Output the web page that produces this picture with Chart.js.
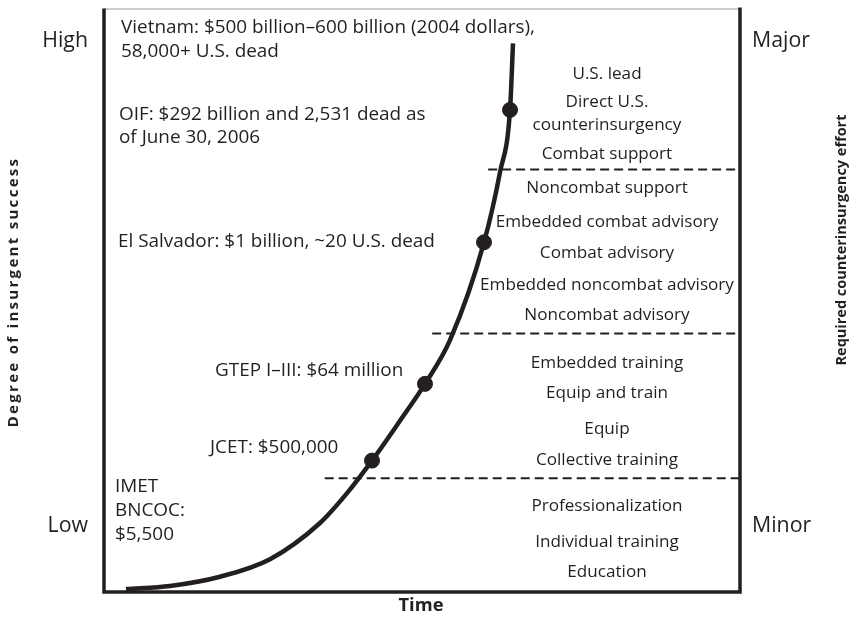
<!DOCTYPE html>
<html>
<head>
<meta charset="utf-8">
<script src="https://cdn.jsdelivr.net/npm/chart.js@4/dist/chart.umd.min.js"></script>
<style>
body{margin:0;background:#fff;}
#wrap{width:858px;height:625px;position:relative;}
</style>
</head>
<body>
<div id="wrap"><canvas id="chartCurva" width="858" height="625"></canvas></div>
<script>
// curva: tiempo (0-100) vs grado de exito insurgente (0-100)
var curvaX=[3.46,10.38,18.24,26.10,33.96,38.05,42.14,46.54,50.47,54.40,59.75,62.26,63.84,64.31];
var curvaY=[0.51,1.04,2.62,5.62,11.83,16.73,22.52,29.35,35.67,43.15,59.93,71.92,82.62,94.01];
// casos marcados en la curva: JCET, GTEP, El Salvador, OIF
var puntosX=[42.14,50.47,59.75,63.84];
var puntosY=[22.52,35.67,59.93,82.62];
// lineas punteadas que separan los niveles de esfuerzo
var divisionY=[72.4,44.3,19.5];
var divisionDesde=[60.4,51.6,34.7];

var casos=[
	["Vietnam: $500 billion\u2013600 billion (2004 dollars),","58,000+ U.S. dead"],
	["OIF: $292 billion and 2,531 dead as","of June 30, 2006"],
	["El Salvador: $1 billion, ~20 U.S. dead"],
	["GTEP I\u2013III: $64 million"],
	["JCET: $500,000"],
	["IMET","BNCOC:","$5,500"]
];
var niveles=["U.S. lead","Direct U.S.","counterinsurgency","Combat support","Noncombat support",
	"Embedded combat advisory","Combat advisory","Embedded noncombat advisory","Noncombat advisory",
	"Embedded training","Equip and train","Equip","Collective training",
	"Professionalization","Individual training","Education"];
var ejeIzq=["High","Low"];
var ejeDer=["Major","Minor"];
var tituloIzq="Degree of insurgent success";
var tituloDer="Required counterinsurgency effort";
var tituloX="Time";

var negro="#231f20";
var fuente="'Open Sans', 'Noto Sans', sans-serif";

function puntos(xs,ys){
	var r=[];
	for(var i=0;i<xs.length;i++) r.push({x:xs[i],y:ys[i]});
	return r;
}
// tamaño de letra para que el texto mida "ancho" px
function tamano(ctx,texto,ancho,peso){
	ctx.font=peso+" 20px "+fuente;
	return 20*ancho/ctx.measureText(texto).width;
}

var datasets=[];
for(var i=0;i<divisionY.length;i++){
	datasets.push({
		type:'line',
		data:[{x:divisionDesde[i],y:divisionY[i]},{x:100,y:divisionY[i]}],
		borderColor:negro,
		borderWidth:2,
		borderDash:[9,5],
		pointRadius:0
	});
}
datasets.push({
	type:'line',
	data:puntos(curvaX,curvaY),
	borderColor:negro,
	borderWidth:4.5,
	cubicInterpolationMode:'monotone',
	pointRadius:0,
	clip:false
});
datasets.push({
	type:'scatter',
	data:puntos(puntosX,puntosY),
	backgroundColor:negro,
	borderColor:negro,
	pointRadius:7.5,
	pointHoverRadius:7.5
});

var textos={
	id:'textos',
	afterDraw:function(chart){
		var ctx=chart.ctx, a=chart.chartArea;
		ctx.save();
		// marco
		ctx.strokeStyle="#9a9a9a";
		ctx.lineWidth=1;
		ctx.beginPath();ctx.moveTo(a.left,a.top+0.5);ctx.lineTo(a.right,a.top+0.5);ctx.stroke();
		ctx.strokeStyle=negro;
		ctx.lineWidth=3.5;
		ctx.beginPath();
		ctx.moveTo(a.left,a.top);ctx.lineTo(a.left,a.bottom);ctx.lineTo(a.right,a.bottom);ctx.lineTo(a.right,a.top-1);
		ctx.stroke();

		ctx.fillStyle=negro;
		ctx.textBaseline='middle';
		// anotaciones de casos (izquierda)
		var t1=tamano(ctx,casos[0][0],414,"normal");
		ctx.font=t1.toFixed(2)+"px "+fuente;
		var pos=[[121,28],[119,115],[118,242],[215,371],[210,448],[115,487]];
		var salto=[24,23,0,0,0,24];
		ctx.textAlign='left';
		for(var i=0;i<casos.length;i++){
			for(var j=0;j<casos[i].length;j++)
				ctx.fillText(casos[i][j],pos[i][0],pos[i][1]+j*salto[i]);
		}
		// niveles de esfuerzo (derecha)
		var t2=tamano(ctx,"Embedded noncombat advisory",254,"normal");
		ctx.font=t2.toFixed(2)+"px "+fuente;
		var yNiv=[74,102,125,154,188,222,253,285,315,363,393,429,460,506,542,572];
		ctx.textAlign='center';
		for(var k=0;k<niveles.length;k++) ctx.fillText(niveles[k],607,yNiv[k]);
		// etiquetas de ejes
		var t3=tamano(ctx,"Major",58,"normal");
		ctx.font=t3.toFixed(2)+"px "+fuente;
		ctx.textAlign='right';
		ctx.fillText(ejeIzq[0],88,41);
		ctx.fillText(ejeIzq[1],88,526);
		ctx.textAlign='left';
		ctx.fillText(ejeDer[0],752,41);
		ctx.fillText(ejeDer[1],752,526);
		// titulos
		var t4=tamano(ctx,tituloX,45,"bold");
		ctx.font="bold "+t4.toFixed(2)+"px "+fuente;
		ctx.textAlign='center';
		ctx.fillText(tituloX,421,606);
		ctx.font="bold 14.5px "+fuente;
		ctx.save();
		ctx.translate(842,240);ctx.rotate(-Math.PI/2);
		ctx.fillText(tituloDer,0,0);
		ctx.restore();
		// el titulo izquierdo va algo más espaciado
		ctx.font="bold 15px "+fuente;
		ctx.letterSpacing="2.3px";
		ctx.save();
		ctx.translate(14,292);ctx.rotate(-Math.PI/2);
		ctx.fillText(tituloIzq,0,0);
		ctx.restore();
		ctx.letterSpacing="0px";
		ctx.restore();
	}
};

new Chart(document.getElementById("chartCurva"),{
	type:'line',
	data:{datasets:datasets},
	options:{
		responsive:false,
		animation:false,
		layout:{padding:{left:104,top:8,right:118,bottom:33}},
		plugins:{legend:{display:false},tooltip:{enabled:false}},
		scales:{
			x:{type:'linear',min:0,max:100,display:false},
			y:{type:'linear',min:0,max:100,display:false}
		}
	},
	plugins:[textos]
});
</script>
</body>
</html>
